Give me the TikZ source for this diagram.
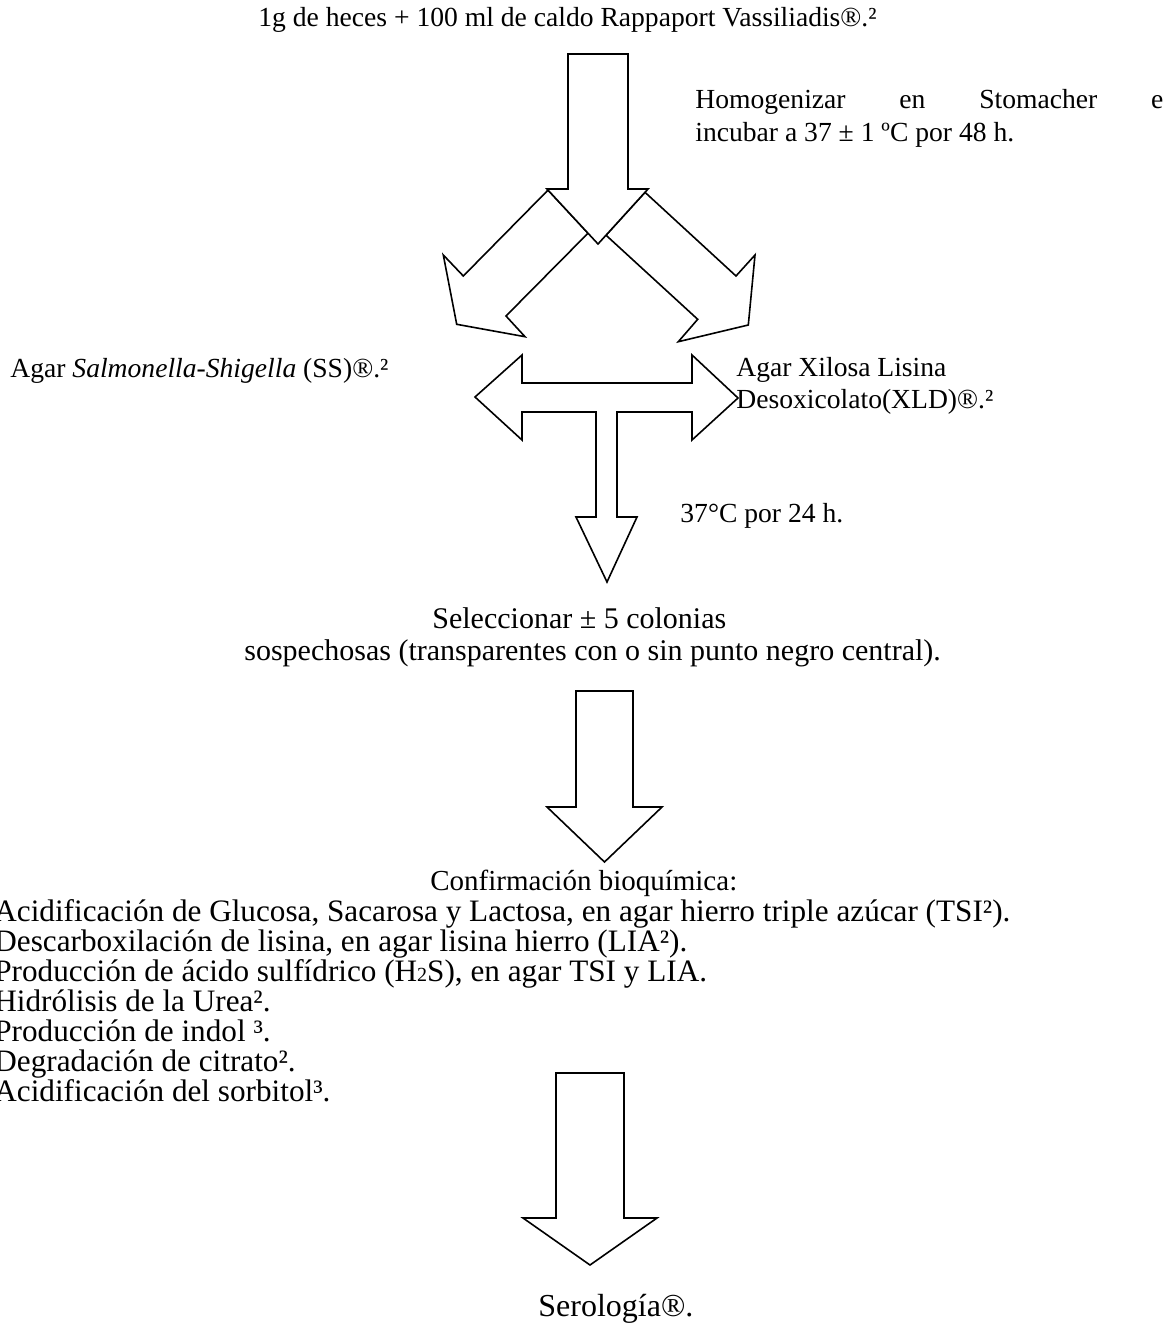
\documentclass[tikz,border=0pt]{standalone}
\usepackage{fontspec}
\setmainfont{Liberation Serif}
\usetikzlibrary{positioning}
\tikzstyle{every node}=[font=\fontsize{13.8}{15}\selectfont]

\begin{document}
\begin{tikzpicture}[
            x=0.5pt, y=-0.5pt,
            block arrow/.style={draw=black, fill=white, line width=0.8pt, line join=miter},
            label text/.style={inner sep=0pt, anchor=base west},
            big text/.style={label text, font=\fontsize{15}{15}\selectfont},
            test text/.style={label text, font=\fontsize{15.6}{15}\selectfont}
        ]
            \useasboundingbox (0,0) rectangle (1168,1333);

            % --- Branching arrows (drawn first, the top arrow covers their bases) ---
            \draw[block arrow] (548,190.1) -- (463.3,276) -- (443.3,255) -- (456.7,324.3)
                -- (525,336.7) -- (506,316) -- (588,233.2) -- cycle;
            \draw[block arrow] (645,192.3) -- (736,276) -- (755,255) -- (748.3,325)
                -- (678.3,341.7) -- (697.7,319.3) -- (606,235.2) -- cycle;
            \draw[block arrow] (568,54) -- (628,54) -- (628,189) -- (648,189)
                -- (598,244) -- (547,189) -- (568,189) -- cycle;

            % --- T-shaped arrow ---
            \draw[block arrow] (475,397) -- (522,355) -- (522,383) -- (692,383) -- (692,355)
                -- (738,398) -- (692,440) -- (692,412) -- (617,412) -- (617,517) -- (637,517)
                -- (607,582) -- (576,517) -- (596,517) -- (596,412) -- (522,412) -- (522,440) -- cycle;

            % --- Lower arrows ---
            \draw[block arrow] (576,691) -- (633,691) -- (633,807) -- (662,807)
                -- (604.5,862) -- (547,807) -- (576,807) -- cycle;
            \draw[block arrow] (556,1073) -- (624,1073) -- (624,1218) -- (657,1218)
                -- (590,1265) -- (523,1218) -- (556,1218) -- cycle;

            % --- Labels ---
            \node[label text] (broth) at (258,26) {1g de heces + 100 ml de caldo Rappaport Vassiliadis®.²};
            \node[label text] (homog) at (695,108) {\makebox[234pt][s]{Homogenizar en Stomacher e}};
            \node[label text] (incub) at (695,141) {incubar a 37 ± 1 ºC por 48 h.};
            \node[label text] (ss) at (10,377) {Agar \textit{Salmonella-Shigella} (SS)®.²};
            \node[label text] (xld) at (736,376) {Agar Xilosa Lisina};
            \node[label text] (xld2) at (736,408) {Desoxicolato(XLD)®.²};
            \node[label text] (temp) at (680,522) {37°C por 24 h.};
            \node[big text] (select) at (432,628) {Seleccionar ± 5 colonias};
            \node[big text] (select2) at (244,660) {sospechosas (transparentes con o sin punto negro central).};
            \node[label text, font=\fontsize{14.5}{15}\selectfont] (confirm) at (430,890) {Confirmación bioquímica:};

            % --- Biochemical tests ---
            \node[test text] (tsi) at (-6,921) {Acidificación de Glucosa, Sacarosa y Lactosa, en agar hierro triple azúcar (TSI²).};
            \node[test text] (lia) at (-6,951) {Descarboxilación de lisina, en agar lisina hierro (LIA²).};
            \node[test text] (hs) at (-6,981) {Producción de ácido sulfídrico (H{\fontsize{10}{10}\selectfont 2}S), en agar TSI y LIA.};
            \node[test text] (urea) at (-6,1011) {Hidrólisis de la Urea².};
            \node[test text] (indol) at (-6,1041) {Producción de indol ³.};
            \node[test text] (citr) at (-6,1071) {Degradación de citrato².};
            \node[test text] (sorb) at (-6,1101) {Acidificación del sorbitol³.};

            \node[test text, font=\fontsize{16}{15}\selectfont] (sero) at (538,1316) {Serología®.};

        \end{tikzpicture}
\end{document}
